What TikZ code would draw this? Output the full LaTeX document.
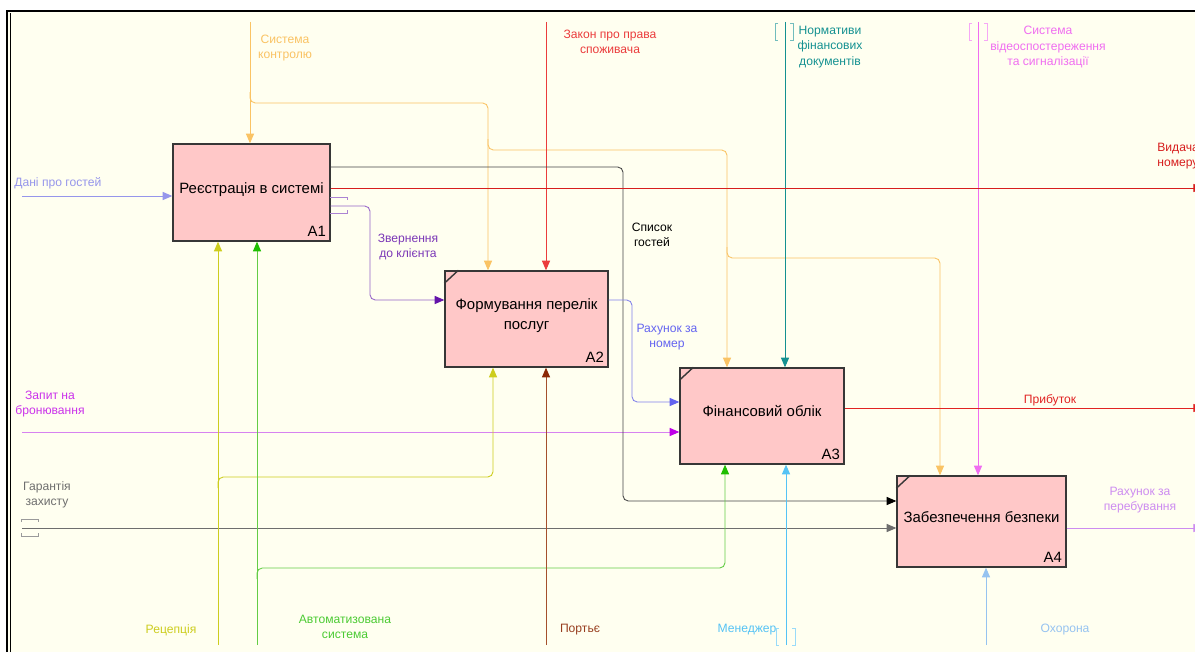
\documentclass[tikz,border=0pt]{standalone}
\usepackage{fontspec}
\setmainfont{Liberation Sans}
\usetikzlibrary{arrows.meta}
\definecolor{paper}{RGB}{255,255,240}
\definecolor{boxfill}{RGB}{255,200,200}
\definecolor{boxline}{RGB}{55,55,55}
\definecolor{ctrlc}{RGB}{250,195,100}
\definecolor{lawc}{RGB}{235,60,60}
\definecolor{normc}{RGB}{20,145,145}
\definecolor{videoc}{RGB}{240,110,240}
\definecolor{guestc}{RGB}{150,150,235}
\definecolor{listc}{RGB}{70,70,70}
\definecolor{issuec}{RGB}{215,30,30}
\definecolor{appealc}{RGB}{150,100,200}
\definecolor{appealtip}{RGB}{100,20,170}
\definecolor{billc}{RGB}{130,130,235}
\definecolor{billtip}{RGB}{100,100,240}
\definecolor{bookc}{RGB}{215,130,240}
\definecolor{booktip}{RGB}{190,0,230}
\definecolor{guarc}{RGB}{110,110,110}
\definecolor{profitc}{RGB}{225,35,35}
\definecolor{stayc}{RGB}{205,140,240}
\definecolor{recc}{RGB}{205,205,30}
\definecolor{autoc}{RGB}{100,205,70}
\definecolor{autotip}{RGB}{30,190,0}
\definecolor{portc}{RGB}{165,80,45}
\definecolor{porttip}{RGB}{140,40,5}
\definecolor{manc}{RGB}{85,195,245}
\definecolor{guardc}{RGB}{150,195,240}
\begin{document}
\begin{tikzpicture}[x=0.02cm, y=-0.02cm,
  every node/.style={font=\fontsize{6.9}{8.6}\selectfont},
  act/.style={draw=boxline, fill=boxfill, line width=0.8pt, inner sep=0pt, align=center,
    text depth=5.5pt, font=\fontsize{8.5}{11}\selectfont},
  num/.style={anchor=south east, inner sep=2.5pt, text depth=0pt, font=\fontsize{8.5}{10}\selectfont},
  lbl/.style={align=center, inner sep=0pt},
  link/.style={line width=0.5pt, rounded corners=3pt},
  arr/.style={-{Triangle[length=5.5pt,width=4.6pt,#1]}}, arr/.default={},
  tun/.style={line width=0.45pt}]
  \useasboundingbox (0,0) rectangle (1195,652);
  % sheet and frame
  \fill[white] (0,0) rectangle (1195,652);
  \fill[paper] (7,11) rectangle (1195,652);
  \draw[line width=1.3pt] (7,652) -- (7,11) -- (1195,11);
  \draw[line width=0.6pt] (10.5,652) -- (10.5,13);

  % activities
  \node[act, minimum width=3.14cm, minimum height=1.94cm] (a1) at (251.5,192.5) {Реєстрація в системі};
  \node[act, minimum width=3.26cm, minimum height=1.92cm] (a2) at (526.5,319) {Формування перелік\\послуг};
  \node[act, minimum width=3.28cm, minimum height=1.92cm] (a3) at (762,416) {Фінансовий облік};
  \node[act, minimum width=3.38cm, minimum height=1.82cm] (a4) at (981.5,521.5) {Забезпечення безпеки};
  \node[num] (n1) at (a1.south east) {A1};
  \node[num] (n2) at (a2.south east) {A2};
  \node[num] (n3) at (a3.south east) {A3};
  \node[num] (n4) at (a4.south east) {A4};
  \draw[boxline, line width=0.8pt] (a2.north west) ++(0,13) -- ++(14,-13);
  \draw[boxline, line width=0.8pt] (a3.north west) ++(0,13) -- ++(14,-13);
  \draw[boxline, line width=0.8pt] (a4.north west) ++(0,13) -- ++(14,-13);

  % controls from the top
  \coordinate (ctrlin) at (250,22);
  \coordinate (lawin) at (546,22);
  \coordinate (normin) at (785,22);
  \coordinate (videoin) at (978,22);
  \draw[link, ctrlc, arr] (ctrlin) -- (ctrlin |- a1.north);
  \draw[link, ctrlc, arr] (ctrlin |- 0,92) |- (488,103) -- (488,0 |- a2.north);
  \draw[link, ctrlc, arr] (488,139) |- (727,150) -- (727,0 |- a3.north);
  \draw[link, ctrlc, arr] (727,247) |- (940,258) -- (940,0 |- a4.north);
  \draw[link, lawc, arr] (lawin) -- (lawin |- a2.north);
  \draw[link, normc, arr] (normin) -- (normin |- a3.north);
  \draw[link, videoc, arr] (videoin) -- (videoin |- a4.north);
  \draw[tun, normc!60] (778,23) -- (775,23) -- (775,40) -- (778,40);
  \draw[tun, normc!60] (790,23) -- (793,23) -- (793,40) -- (790,40);
  \draw[tun, videoc!60] (972,23) -- (969,23) -- (969,40) -- (972,40);
  \draw[tun, videoc!60] (984,23) -- (987,23) -- (987,40) -- (984,40);
  \node[lbl, text=ctrlc] (ctrllbl) at (285,48) {Система\\контролю};
  \node[lbl, text=lawc] (lawlbl) at (610,42) {Закон про права\\споживача};
  \node[lbl, text=normc] (normlbl) at (830,47) {Нормативи\\фінансових\\документів};
  \node[lbl, text=videoc] (videolbl) at (1048,47) {Система\\відеоспостереження\\та сигналізації};

  % inputs from the left
  \coordinate (guestin) at (22,196);
  \coordinate (bookin) at (22,432);
  \coordinate (guarin) at (22,528);
  \draw[link, guestc, arr] (guestin) -- (guestin -| a1.west);
  \draw[link, bookc, arr={color=booktip}] (bookin) -- (bookin -| a3.west);
  \draw[link, guarc, arr] (guarin) -- (guarin -| a4.west);
  \draw[tun, guarc!70] (21,522) -- (21,519) -- (38,519) -- (38,522);
  \draw[tun, guarc!70] (21,533) -- (21,536) -- (38,536) -- (38,533);
  \node[lbl, text=guestc, anchor=west] (guestlbl) at (14,183) {Дані про гостей};
  \node[lbl, text=booktip!80] (booklbl) at (50,404) {Запит на\\бронювання};
  \node[lbl, text=guarc] (guarlbl) at (47,495) {Гарантія\\захисту};

  % outputs and links between activities
  \coordinate (issueout) at (1203,188);
  \coordinate (profitout) at (1203,408);
  \coordinate (stayout) at (1203,528);
  \draw[link, listc, arr={color=black}] (a1.east |- 0,167) -| (623,350) |- (a4.west |- 0,501);
  \draw[link, issuec, arr] (a1.east |- 0,188) -- (issueout);
  \draw[link, appealc, arr={color=appealtip}] (a1.east |- 0,206) -| (370,260) |- (a2.west |- 0,300);
  \draw[tun, appealc!80] (330,197) -- (347,197) -- (347,200);
  \draw[tun, appealc!80] (330,213) -- (347,213) -- (347,210);
  \draw[link, billc, arr={color=billtip}] (a2.east |- 0,300) -| (632,350) |- (a3.west |- 0,402);
  \draw[link, profitc, arr] (a3.east |- 0,408) -- (profitout);
  \draw[link, stayc, arr] (a4.east |- 0,528) -- (stayout);
  \node[lbl, text=black] (listlbl) at (652,235) {Список\\гостей};
  \node[lbl, text=issuec, anchor=west, align=left] (issuelbl) at (1157,156) {Видача\\номеру};
  \node[lbl, text=appealtip!85] (appeallbl) at (408,247) {Звернення\\до клієнта};
  \node[lbl, text=billtip] (billlbl) at (667,337) {Рахунок за\\номер};
  \node[lbl, text=profitc] (profitlbl) at (1050,400) {Прибуток};
  \node[lbl, text=stayc] (staylbl) at (1140,500) {Рахунок за\\перебування};

  % mechanisms from the bottom
  \coordinate (recin) at (218,645);
  \coordinate (autoin) at (257,645);
  \coordinate (portin) at (546,645);
  \coordinate (manin) at (786,645);
  \coordinate (guardin) at (986,645);
  \draw[link, recc, arr] (recin) -- (recin |- a1.south);
  \draw[link, recc, arr] (recin |- 0,488) |- (493,477) -- (493,0 |- a2.south);
  \draw[link, autoc, arr={color=autotip}] (autoin) -- (autoin |- a1.south);
  \draw[link, autoc, arr={color=autotip}] (autoin |- 0,579) |- (725,568) -- (725,0 |- a3.south);
  \draw[link, portc, arr={color=porttip}] (portin) -- (portin |- a2.south);
  \draw[link, manc, arr] (manin) -- (manin |- a3.south);
  \draw[link, guardc, arr] (guardin) -- (guardin |- a4.south);
  \draw[tun, manc!60] (779,628) -- (776,628) -- (776,645) -- (779,645);
  \draw[tun, manc!60] (792,628) -- (795,628) -- (795,645) -- (792,645);
  \node[lbl, text=recc] (reclbl) at (171,630) {Рецепція};
  \node[lbl, text=autotip!80] (autolbl) at (345,627) {Автоматизована\\система};
  \node[lbl, text=porttip!90] (portlbl) at (580,630) {Портьє};
  \node[lbl, text=manc] (manlbl) at (747,630) {Менеджер};
  \node[lbl, text=guardc] (guardlbl) at (1065,630) {Охорона};
\end{tikzpicture}
\end{document}
